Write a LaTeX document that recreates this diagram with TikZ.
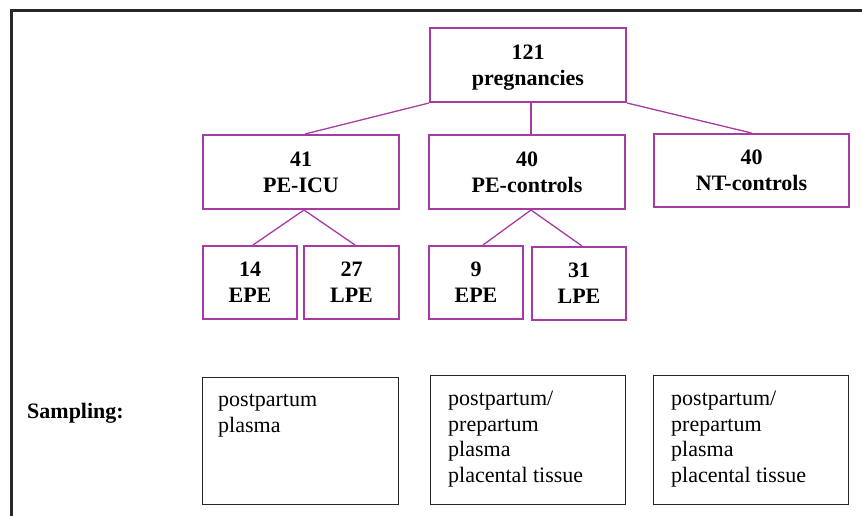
\documentclass[tikz,border=0pt]{standalone}
\usepackage{fontspec}
\setmainfont{Liberation Serif}
\definecolor{boxpurple}{RGB}{168,58,163}
\definecolor{framegray}{RGB}{40,40,40}
\newcommand{\topstrut}{\rule{0pt}{19.5pt}}
\newcommand{\botstrut}{\rule[-5pt]{0pt}{5pt}}
\newcommand{\bodystrut}{\rule{0pt}{16pt}}
\begin{document}
\begin{tikzpicture}[x=1pt,y=-1pt,
  pbox/.style={draw=boxpurple,line width=2pt,rectangle,inner sep=0pt,align=center,
    font=\fontsize{22pt}{26pt}\selectfont\bfseries},
  sbox/.style={draw=black!85,line width=0.9pt,rectangle,inner sep=0pt},
  stext/.style={anchor=north west,inner sep=0pt,align=left,
    font=\fontsize{22pt}{25.5pt}\selectfont},
  link/.style={draw=boxpurple,line width=1.3pt}]
\useasboundingbox (0,0) rectangle (862,516);
\draw[framegray,line width=2.8pt] (862,10.8) -- (11.6,10.8) -- (11.6,516);
% purple boxes
\node[pbox,minimum width=196pt,minimum height=74pt] (all) at (528,65) {\topstrut 121\\pregnancies\botstrut};
\node[pbox,minimum width=196pt,minimum height=74pt] (icu) at (301,172) {\topstrut 41\\PE-ICU\botstrut};
\node[pbox,minimum width=196pt,minimum height=74pt] (pec) at (527,172) {\topstrut 40\\PE-controls\botstrut};
\node[pbox,minimum width=195pt,minimum height=73pt] (ntc) at (751.5,170.5) {\topstrut 40\\NT-controls\botstrut};
\node[pbox,minimum width=94pt,minimum height=73pt] (epeA) at (250,282.5) {\topstrut 14\\EPE\botstrut};
\node[pbox,minimum width=95pt,minimum height=73pt] (lpeA) at (351.5,282.5) {\topstrut 27\\LPE\botstrut};
\node[pbox,minimum width=94pt,minimum height=73pt] (epeB) at (476,282.5) {\topstrut 9\\EPE\botstrut};
\node[pbox,minimum width=94pt,minimum height=73pt] (lpeB) at (579,283.5) {\topstrut 31\\LPE\botstrut};
% connectors
\draw[link] (all.south west) -- ([xshift=4pt]icu.north);
\draw[link] ([xshift=3pt]all.south) -- ([xshift=4pt]pec.north);
\draw[link] (all.south east) -- (ntc.north);
\draw[link] ([xshift=3pt]icu.south) -- ([xshift=3pt]epeA.north);
\draw[link] ([xshift=3pt]icu.south) -- ([xshift=3.5pt]lpeA.north);
\draw[link] ([xshift=4pt]pec.south) -- ([xshift=7pt]epeB.north);
\draw[link] ([xshift=4pt]pec.south) -- ([xshift=3pt]lpeB.north);
% sampling
\node[anchor=base west,inner sep=0pt,font=\fontsize{22pt}{26pt}\selectfont\bfseries] (samp) at (27,418) {Sampling:};
\node[sbox,minimum width=196pt,minimum height=127pt] (sA) at (300,440.5) {};
\node[sbox,minimum width=195pt,minimum height=129pt] (sB) at (527.5,439.5) {};
\node[sbox,minimum width=195pt,minimum height=129pt] (sC) at (750.5,439.5) {};
\node[stext] (tA) at (218,390.5) {\bodystrut postpartum\\plasma};
\node[stext] (tB) at (448,389.5) {\bodystrut postpartum/\\prepartum\\plasma\\placental tissue};
\node[stext] (tC) at (671,389.5) {\bodystrut postpartum/\\prepartum\\plasma\\placental tissue};
\end{tikzpicture}
\end{document}
